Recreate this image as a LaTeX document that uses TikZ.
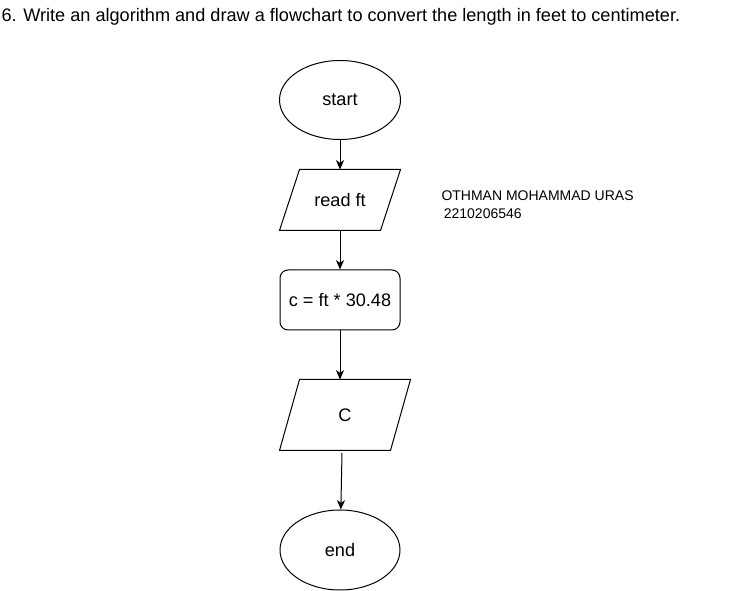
\documentclass[tikz,border=0pt]{standalone}
\usepackage{fontspec}
\setmainfont{Liberation Sans}
\usetikzlibrary{shapes.geometric}
\usetikzlibrary{arrows.meta}

\begin{document}
\begin{tikzpicture}[x=0.75pt,y=-0.75pt,
    line width=0.75pt,
    flow/.style={-{Stealth[length=7pt,width=6pt,inset=2pt]}},
    term/.style={ellipse, draw, inner sep=0pt, font=\fontsize{13.6}{16}\selectfont},
    io/.style={rectangle, inner sep=0pt, font=\fontsize{13.6}{16}\selectfont},
    proc/.style={rectangle, draw, rounded corners=6pt, minimum width=90pt, minimum height=45pt, inner sep=0pt, font=\fontsize{13.6}{16}\selectfont}]

\useasboundingbox (0,0) rectangle (751,591);

% question
\node[anchor=west, inner sep=0pt, font=\fontsize{13.6}{16}\selectfont] (title) at (1,17) {6. Write an algorithm and draw a flowchart to convert the length in feet to centimeter.};

% flowchart
\node[term, minimum width=90.75pt, minimum height=59.25pt] (start) at (340,100) {start};
\node[io, minimum width=90pt, minimum height=45pt] (read) at (340,200) {read ft};
\node[proc] (calc) at (340,300) {c = ft * 30.48};
\node[io, minimum width=97.5pt, minimum height=52.5pt] (out) at (345,415) {C};
\node[term, minimum width=90pt, minimum height=60pt] (end) at (340,550) {end};

% slanted sides of the input / output boxes
\draw ([xshift=15pt]read.north west) -- (read.north east) -- ([xshift=-15pt]read.south east) -- (read.south west) -- cycle;
\draw ([xshift=15pt]out.north west) -- (out.north east) -- ([xshift=-15pt]out.south east) -- (out.south west) -- cycle;

% name
\node[anchor=north west, inner sep=0pt, align=left, font=\fontsize{10.5}{13.5}\selectfont] (name) at (441,190) {OTHMAN MOHAMMAD URAS\\ \,2210206546};

\coordinate (outb) at (342,453);

\draw[flow] (start) -- (read);
\draw[flow] (read) -- (calc);
\draw[flow] (calc.south) -- (calc.south |- out.north);
\draw[flow] (outb) -- (end);
\end{tikzpicture}
\end{document}
